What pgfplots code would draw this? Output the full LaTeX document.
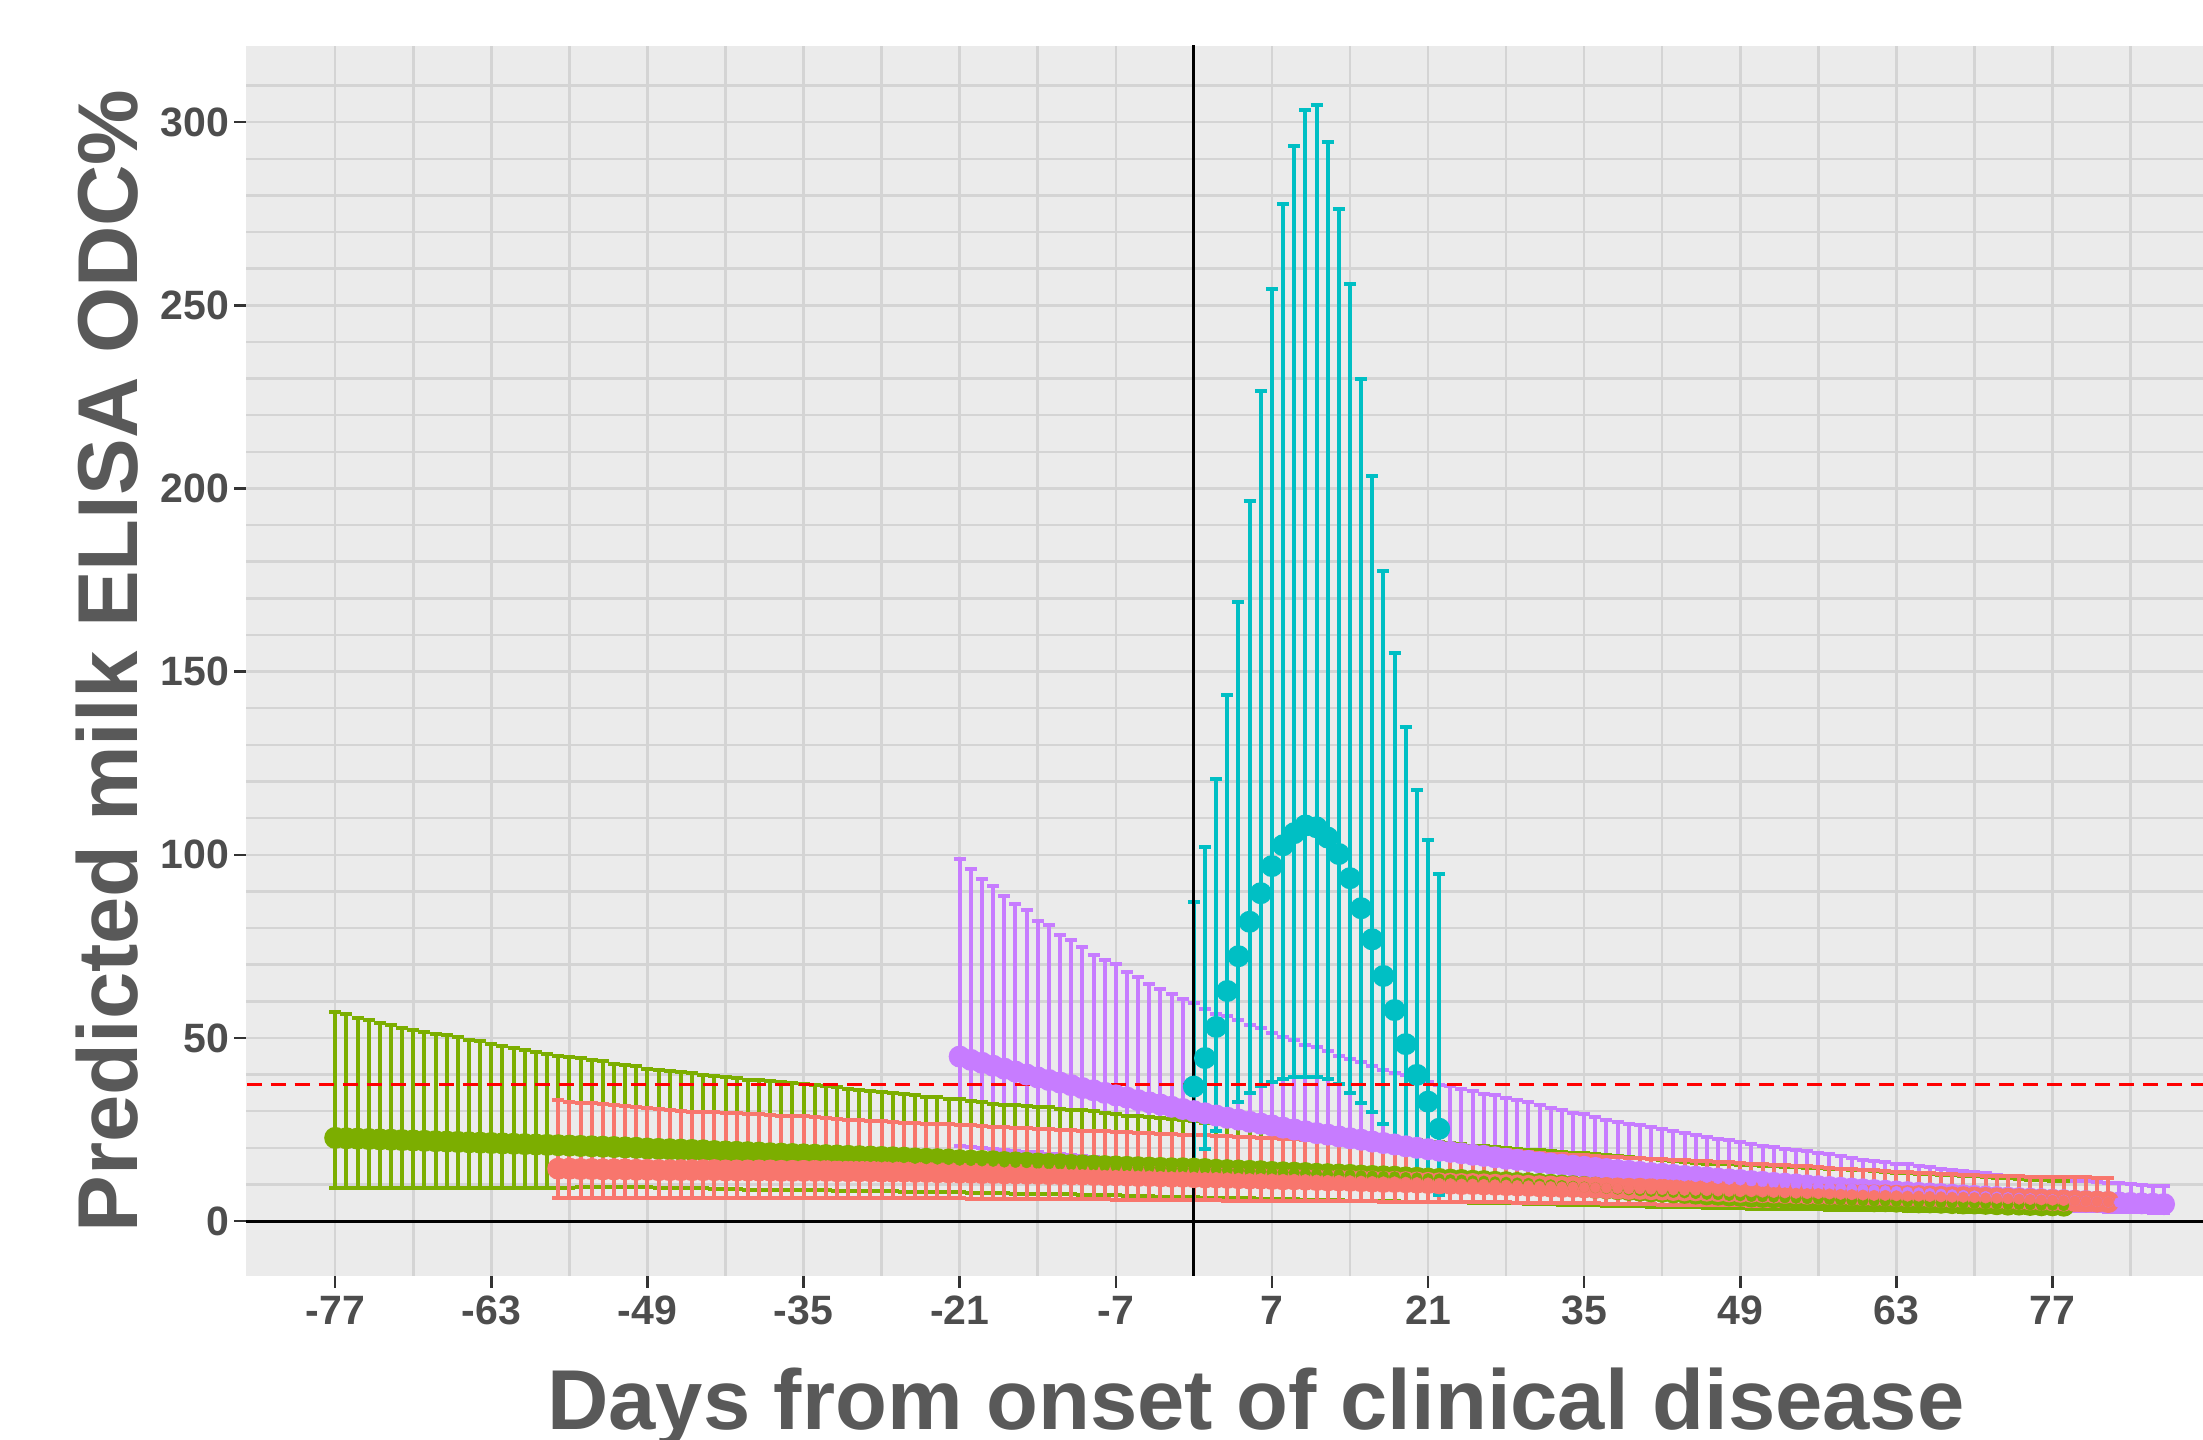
\documentclass[border=0pt]{standalone}
\usepackage{pgfplots}
\pgfplotsset{compat=1.18}
\usepackage{pgfplotstable}
\usepackage{fontspec}
\setmainfont{Liberation Sans}

\definecolor{cRed}{HTML}{F8766D}
\definecolor{cGreen}{HTML}{7CAE00}
\definecolor{cCyan}{HTML}{00BFC4}
\definecolor{cPurple}{HTML}{C77CFF}
\definecolor{panelbg}{HTML}{EBEBEB}
\definecolor{gridc}{HTML}{D4D4D4}
\definecolor{titlec}{HTML}{595959}
\definecolor{tickc}{HTML}{4D4D4D}

% day, mean, lower, upper
\pgfplotstableread{
d m lo hi
-77 22.7 8.9 57.0
-76 22.6 8.9 56.4
-75 22.5 8.9 55.5
-74 22.4 8.9 54.9
-73 22.3 9.0 54.1
-72 22.2 9.0 53.5
-71 22.1 9.0 52.7
-70 22.0 9.0 52.1
-69 21.9 9.0 51.5
-68 21.8 9.0 51.1
-67 21.7 9.0 50.7
-66 21.6 9.0 50.2
-65 21.5 9.0 49.5
-64 21.4 9.1 49.1
-63 21.3 9.1 48.4
-62 21.2 9.1 47.7
-61 21.1 9.1 47.3
-60 21.0 9.1 46.6
-59 20.9 9.1 46.1
-58 20.8 9.1 45.5
-57 20.7 9.1 45.0
-56 20.6 9.1 44.7
-55 20.5 9.2 44.4
-54 20.4 9.2 44.1
-53 20.3 9.2 43.6
-52 20.2 9.2 43.0
-51 20.1 9.2 42.5
-50 20.0 9.2 42.2
-49 19.8 9.2 41.6
-48 19.7 9.1 41.3
-47 19.6 9.1 40.9
-46 19.5 9.0 40.6
-45 19.4 9.0 40.3
-44 19.3 8.9 39.9
-43 19.1 8.8 39.7
-42 19.0 8.8 39.4
-41 18.9 8.7 39.0
-40 18.8 8.6 38.6
-39 18.7 8.6 38.4
-38 18.5 8.5 38.2
-37 18.4 8.5 38.0
-36 18.3 8.5 37.8
-35 18.2 8.4 37.4
-34 18.1 8.4 37.1
-33 18.0 8.4 36.8
-32 17.9 8.3 36.6
-31 17.8 8.3 36.0
-30 17.7 8.3 35.8
-29 17.6 8.2 35.5
-28 17.5 8.2 35.2
-27 17.4 8.1 35.0
-26 17.3 8.0 34.6
-25 17.1 8.0 34.3
-24 17.0 7.9 33.9
-23 16.9 7.9 33.8
-22 16.8 7.8 33.4
-21 16.6 7.8 33.2
-20 16.5 7.7 32.7
-19 16.4 7.7 32.4
-18 16.3 7.6 32.0
-17 16.1 7.6 31.8
-16 16.0 7.5 31.6
-15 15.9 7.5 31.3
-14 15.7 7.4 31.2
-13 15.6 7.4 31.0
-12 15.5 7.3 30.6
-11 15.3 7.3 30.4
-10 15.2 7.2 30.2
-9 15.1 7.1 30.0
-8 15.0 7.1 29.5
-7 14.9 7.0 29.3
-6 14.8 6.9 28.8
-5 14.7 6.8 28.6
-4 14.6 6.8 28.4
-3 14.5 6.7 28.1
-2 14.4 6.6 27.8
-1 14.4 6.6 27.5
0 14.3 6.5 27.2
1 14.2 6.4 26.9
2 14.0 6.4 26.7
3 13.9 6.3 26.4
4 13.8 6.2 26.2
5 13.7 6.2 25.9
6 13.6 6.1 25.6
7 13.4 6.0 25.4
8 13.3 5.9 25.1
9 13.2 5.9 24.9
10 13.1 5.8 24.6
11 12.9 5.8 24.4
12 12.8 5.7 24.1
13 12.7 5.7 23.8
14 12.6 5.6 23.6
15 12.4 5.6 23.3
16 12.3 5.5 23.1
17 12.2 5.4 22.8
18 12.1 5.4 22.6
19 11.9 5.3 22.3
20 11.8 5.3 22.0
21 11.6 5.2 21.7
22 11.5 5.2 21.5
23 11.3 5.1 21.2
24 11.2 5.1 20.9
25 11.0 5.0 20.6
26 10.9 4.9 20.4
27 10.7 4.9 20.2
28 10.6 4.8 19.9
29 10.4 4.8 19.7
30 10.3 4.7 19.5
31 10.1 4.6 19.3
32 9.9 4.6 19.1
33 9.7 4.5 18.9
34 9.5 4.4 18.7
35 9.3 4.4 18.5
36 9.1 4.3 18.3
37 8.9 4.2 18.0
38 8.7 4.1 17.7
39 8.5 4.1 17.5
40 8.3 4.0 17.2
41 8.1 3.9 16.9
42 8.0 3.9 16.7
43 7.8 3.8 16.4
44 7.7 3.8 16.1
45 7.5 3.7 15.9
46 7.3 3.6 15.7
47 7.2 3.6 15.6
48 7.0 3.5 15.5
49 6.9 3.5 15.4
50 6.7 3.4 15.3
51 6.6 3.4 15.1
52 6.5 3.3 14.9
53 6.3 3.3 14.8
54 6.2 3.2 14.7
55 6.1 3.2 14.6
56 6.0 3.2 14.5
57 5.9 3.1 14.3
58 5.7 3.1 14.1
59 5.6 3.0 13.9
60 5.5 3.0 13.8
61 5.4 3.0 13.6
62 5.4 2.9 13.4
63 5.3 2.9 13.2
64 5.2 2.8 13.0
65 5.1 2.8 12.9
66 5.1 2.8 12.8
67 5.0 2.7 12.6
68 4.9 2.7 12.5
69 4.8 2.6 12.3
70 4.8 2.6 12.2
71 4.7 2.5 12.0
72 4.6 2.5 11.8
73 4.5 2.4 11.7
74 4.5 2.4 11.5
75 4.4 2.3 11.3
76 4.3 2.2 11.2
77 4.3 2.2 11.0
78 4.2 2.1 10.9
}\tgreen

\pgfplotstableread{
d m lo hi
-57 14.3 6.2 33.0
-56 14.3 6.2 32.4
-55 14.2 6.2 32.3
-54 14.2 6.2 32.2
-53 14.1 6.2 31.9
-52 14.1 6.2 31.7
-51 14.1 6.3 31.4
-50 14.0 6.3 31.2
-49 14.0 6.3 30.9
-48 13.9 6.3 30.5
-47 13.9 6.3 30.3
-46 13.9 6.3 30.1
-45 13.9 6.4 29.9
-44 13.9 6.4 29.8
-43 13.9 6.4 29.7
-42 13.8 6.4 29.6
-41 13.8 6.4 29.4
-40 13.8 6.4 29.2
-39 13.8 6.4 29.1
-38 13.8 6.4 29.0
-37 13.7 6.4 28.8
-36 13.7 6.4 28.7
-35 13.7 6.4 28.6
-34 13.7 6.4 28.4
-33 13.7 6.4 28.2
-32 13.6 6.4 27.9
-31 13.6 6.4 27.7
-30 13.6 6.4 27.5
-29 13.6 6.4 27.3
-28 13.5 6.3 27.2
-27 13.5 6.3 27.0
-26 13.5 6.3 26.9
-25 13.4 6.3 26.7
-24 13.4 6.2 26.6
-23 13.3 6.2 26.5
-22 13.3 6.2 26.4
-21 13.2 6.2 26.3
-20 13.2 6.1 26.2
-19 13.1 6.1 26.0
-18 13.1 6.1 25.8
-17 13.0 6.1 25.7
-16 13.0 6.0 25.5
-15 12.9 6.0 25.3
-14 12.9 6.0 25.2
-13 12.8 6.0 25.1
-12 12.8 5.9 24.9
-11 12.7 5.9 24.8
-10 12.7 5.9 24.7
-9 12.6 5.9 24.6
-8 12.5 5.9 24.5
-7 12.5 5.8 24.3
-6 12.4 5.8 24.2
-5 12.3 5.8 24.1
-4 12.3 5.8 24.0
-3 12.2 5.8 23.9
-2 12.1 5.7 23.7
-1 12.1 5.7 23.6
0 12.0 5.7 23.5
1 11.9 5.7 23.4
2 11.9 5.7 23.2
3 11.8 5.6 23.1
4 11.7 5.6 23.0
5 11.6 5.6 22.9
6 11.6 5.6 22.7
7 11.5 5.6 22.6
8 11.4 5.5 22.5
9 11.4 5.5 22.3
10 11.3 5.5 22.2
11 11.2 5.5 22.1
12 11.1 5.5 21.9
13 11.1 5.4 21.8
14 11.0 5.4 21.7
15 10.9 5.4 21.6
16 10.8 5.4 21.4
17 10.7 5.3 21.3
18 10.7 5.3 21.2
19 10.6 5.3 21.0
20 10.5 5.3 20.9
21 10.4 5.2 20.7
22 10.3 5.2 20.5
23 10.2 5.2 20.3
24 10.1 5.2 20.1
25 10.1 5.1 19.9
26 10.0 5.1 19.7
27 9.9 5.1 19.5
28 9.8 5.1 19.3
29 9.7 5.0 19.1
30 9.6 5.0 18.9
31 9.5 5.0 18.6
32 9.4 4.9 18.4
33 9.3 4.9 18.2
34 9.3 4.8 18.0
35 9.2 4.8 17.9
36 9.1 4.8 17.7
37 9.0 4.7 17.5
38 8.9 4.7 17.4
39 8.8 4.6 17.3
40 8.8 4.6 17.2
41 8.7 4.6 17.0
42 8.6 4.5 16.9
43 8.5 4.5 16.7
44 8.4 4.4 16.6
45 8.4 4.4 16.4
46 8.3 4.4 16.3
47 8.2 4.3 16.1
48 8.1 4.3 16.0
49 8.0 4.3 15.8
50 8.0 4.2 15.7
51 7.9 4.2 15.5
52 7.8 4.2 15.4
53 7.7 4.1 15.2
54 7.6 4.1 15.1
55 7.5 4.1 14.9
56 7.5 4.0 14.7
57 7.4 4.0 14.5
58 7.3 4.0 14.3
59 7.2 3.9 14.1
60 7.1 3.9 14.0
61 7.0 3.8 13.8
62 7.0 3.8 13.6
63 6.9 3.7 13.5
64 6.8 3.7 13.3
65 6.8 3.6 13.2
66 6.7 3.6 13.0
67 6.6 3.5 12.9
68 6.5 3.5 12.8
69 6.5 3.4 12.6
70 6.4 3.4 12.5
71 6.3 3.4 12.4
72 6.2 3.3 12.3
73 6.1 3.3 12.3
74 6.0 3.2 12.2
75 5.9 3.2 12.1
76 5.8 3.2 12.0
77 5.7 3.1 12.0
78 5.6 3.1 11.9
79 5.5 3.0 11.9
80 5.4 3.0 11.9
81 5.3 2.9 11.8
82 5.2 2.9 11.8
}\tred

\pgfplotstableread{
d m lo hi
0 36.7 15.5 87.1
1 44.5 19.8 102.1
2 53.0 24.5 120.6
3 62.8 29.3 143.5
4 72.3 32.5 168.9
5 81.7 35.0 196.7
6 89.5 36.9 226.6
7 96.9 38.0 254.5
8 102.6 38.8 277.6
9 105.9 39.3 293.4
10 108.0 39.4 303.4
11 107.5 39.3 304.7
12 104.7 38.9 294.7
13 100.2 37.5 276.3
14 93.6 35.0 255.8
15 85.4 32.3 230.0
16 76.9 29.7 203.3
17 66.9 26.4 177.4
18 57.6 21.6 155.0
19 48.3 18.5 135.0
20 39.9 14.0 117.8
21 32.6 10.2 103.9
22 25.2 7.1 94.8
}\tcyan

\pgfplotstableread{
d m lo hi
-21 44.9 20.4 98.8
-20 44.0 20.2 96.1
-19 43.2 20.0 93.5
-18 42.4 19.6 91.5
-17 41.6 19.5 88.7
-16 40.8 19.2 86.6
-15 40.0 18.9 84.8
-14 39.2 18.8 82.0
-13 38.5 18.4 80.7
-12 37.8 18.3 78.1
-11 37.1 17.9 76.6
-10 36.3 17.7 74.7
-9 35.7 17.5 72.7
-8 35.0 17.2 71.3
-7 34.3 16.8 70.1
-6 33.7 16.6 68.1
-5 33.0 16.3 66.7
-4 32.4 16.2 64.6
-3 31.8 16.0 63.3
-2 31.2 15.7 61.9
-1 30.6 15.4 60.7
0 30.0 15.2 59.4
1 29.4 14.9 58.0
2 28.8 14.7 56.6
3 28.2 14.2 56.0
4 27.7 14.0 54.8
5 27.1 13.8 53.4
6 26.6 13.4 52.7
7 26.1 13.2 51.4
8 25.5 13.0 50.2
9 25.0 12.7 49.3
10 24.5 12.5 48.1
11 24.0 12.2 47.4
12 23.6 12.0 46.3
13 23.1 11.8 45.1
14 22.6 11.6 44.2
15 22.2 11.3 43.5
16 21.7 11.1 42.4
17 21.3 11.0 41.3
18 20.9 10.8 40.4
19 20.4 10.5 39.8
20 20.0 10.3 38.8
21 19.6 10.1 38.0
22 19.2 9.95 37.2
23 18.9 9.65 36.8
24 18.5 9.46 36.1
25 18.1 9.24 35.5
26 17.8 9.05 34.8
27 17.4 8.82 34.3
28 17.0 8.64 33.6
29 16.7 8.45 33.0
30 16.4 8.25 32.5
31 16.0 8.14 31.6
32 15.7 8.0 30.9
33 15.4 7.86 30.2
34 15.1 7.73 29.5
35 14.8 7.53 29.1
36 14.5 7.38 28.5
37 14.2 7.29 27.7
38 13.9 7.16 27.1
39 13.7 7.0 26.6
40 13.4 6.83 26.2
41 13.1 6.71 25.6
42 12.9 6.6 25.0
43 12.6 6.47 24.5
44 12.3 6.32 24.1
45 12.1 6.19 23.6
46 11.9 6.1 23.0
47 11.6 5.99 22.5
48 11.4 5.89 22.0
49 11.2 5.76 21.6
50 10.9 5.66 21.1
51 10.7 5.54 20.6
52 10.4 5.39 20.2
53 10.2 5.24 19.8
54 10.0 5.11 19.4
55 9.73 4.98 19.0
56 9.50 4.83 18.7
57 9.29 4.72 18.3
58 9.07 4.62 17.8
59 8.86 4.56 17.2
60 8.66 4.46 16.8
61 8.46 4.36 16.4
62 8.27 4.25 16.1
63 8.08 4.16 15.7
64 7.89 4.02 15.5
65 7.71 3.96 15.0
66 7.53 3.86 14.7
67 7.36 3.79 14.3
68 7.19 3.69 14.0
69 7.02 3.6 13.7
70 6.86 3.49 13.5
71 6.70 3.45 13.0
72 6.55 3.38 12.7
73 6.40 3.33 12.3
74 6.25 3.26 12.0
75 6.11 3.19 11.7
76 5.97 3.07 11.6
77 5.83 2.98 11.4
78 5.70 2.93 11.1
79 5.56 2.81 11.0
80 5.44 2.72 10.9
81 5.31 2.66 10.6
82 5.19 2.59 10.4
83 5.07 2.5 10.3
84 4.95 2.45 10.0
85 4.84 2.39 9.8
86 4.73 2.31 9.7
87 4.62 2.2 9.7
}\tpurple

\pgfplotsset{
  ebar/.style={forget plot, only marks, mark=none, color=#1,
    error bars/.cd, y dir=both, y explicit,
    error bar style={line width=0.8pt, color=#1},
    error mark=-,
    error mark options={rotate=90, line width=0.8pt, mark size=1.2pt, color=#1}},
  pts/.style={forget plot, only marks, color=#1, mark=*, mark size=1.05pt,
    mark options={solid, draw=#1, fill=#1, line width=0.1pt}},
}
\newcommand{\ebarplot}[2]{%
  \addplot[ebar=#1] table[x=d, y=m,
    y error plus expr={\thisrow{hi}-\thisrow{m}},
    y error minus expr={\thisrow{m}-\thisrow{lo}}] {#2};}

\begin{document}
\begin{tikzpicture}
\useasboundingbox (-49.2pt,-32.8pt) rectangle (391.4pt,255.2pt);
\begin{axis}[
  at={(0,0)}, anchor=south west,
  scale only axis,
  width=391.4pt, height=246pt,
  xmin=-85, xmax=90.5,
  ymin=-15, ymax=320.8,
  axis background/.style={fill=panelbg},
  axis line style={draw=none},
  xtick={-77,-63,-49,-35,-21,-7,7,21,35,49,63,77},
  xticklabels={-77,-63,-49,-35,-21,-7,7,21,35,49,63,77},
  minor xtick={-70,-56,-42,-28,-14,0,14,28,42,56,70,84},
  ytick={0,50,100,150,200,250,300},
  yticklabels={0,50,100,150,200,250,300},
  minor ytick={10,20,30,40,60,70,80,90,110,120,130,140,160,170,180,190,210,220,230,240,260,270,280,290,310},
  grid=both,
  major grid style={draw=gridc, line width=0.5pt},
  minor grid style={draw=gridc, line width=0.5pt},
  tick align=outside,
  xtick pos=bottom, ytick pos=left,
  major tick length=2.4pt,
  minor tick length=0pt,
  tick style={draw=black!80, line width=0.5pt},
  ticklabel style={font=\bfseries\fontsize{8.2}{8.2}\selectfont, text=tickc, inner sep=0pt},
  xticklabel style={anchor=north, yshift=-1.4pt},
  yticklabel style={anchor=east, xshift=-0.8pt},
  xlabel={Days from onset of clinical disease},
  ylabel={Predicted milk ELISA ODC\%},
  label style={font=\bfseries\fontsize{17}{17}\selectfont, text=titlec, inner sep=0pt},
  xlabel style={at={(axis description cs:0.516,-0.125)}, anchor=base},
  ylabel style={at={(axis description cs:-0.0557,0.5)}, anchor=base},
]
% error bars
\ebarplot{cPurple}{\tpurple}
\ebarplot{cGreen}{\tgreen}
\ebarplot{cRed}{\tred}
\ebarplot{cCyan}{\tcyan}
% points
\addplot[pts=cPurple] table[x=d, y=m] {\tpurple};
\addplot[pts=cGreen] table[x=d, y=m] {\tgreen};
\addplot[pts=cRed] table[x=d, y=m] {\tred};
\addplot[pts=cCyan] table[x=d, y=m] {\tcyan};
% reference lines
\addplot[forget plot, black, line width=0.6pt] coordinates {(-100,0) (100,0)};
\addplot[forget plot, black, line width=0.6pt] coordinates {(0,-20) (0,330)};
\addplot[forget plot, color={rgb,255:red,255;green,0;blue,0}, line width=0.75pt,
  dash pattern=on 3pt off 1.8pt] coordinates {(-100,37.3) (100,37.3)};
\end{axis}
\end{tikzpicture}
\end{document}
